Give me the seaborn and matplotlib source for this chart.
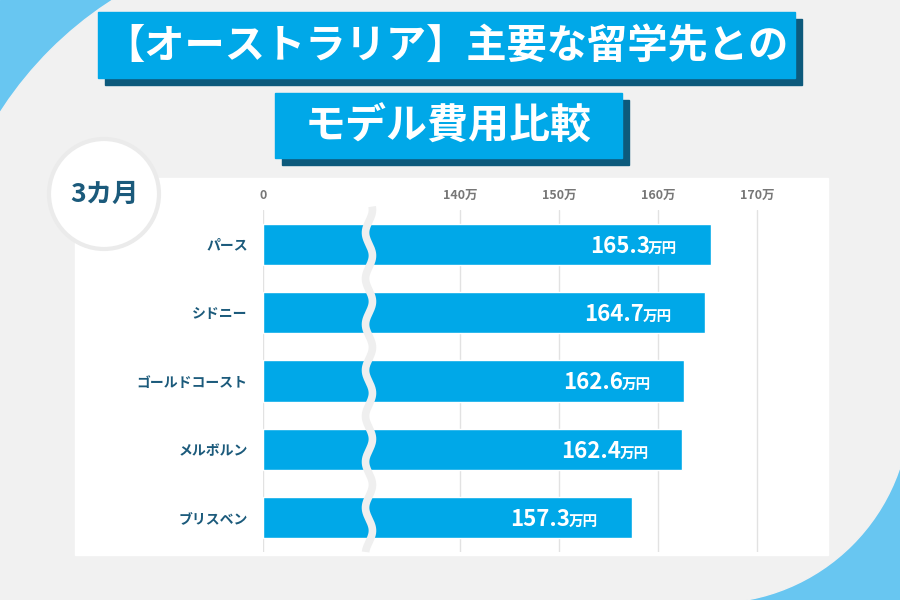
import numpy as np
import pandas as pd
import matplotlib.pyplot as plt
import seaborn as sns
from matplotlib.patches import Rectangle, Circle

# data (3カ月, 万円)
cities = ['パース', 'シドニー', 'ゴールドコースト', 'メルボルン', 'ブリスベン']
costs = [165.3, 164.7, 162.6, 162.4, 157.3]
tick_values = [0, 140, 150, 160, 170]
tick_labels = ['0', '140万', '150万', '160万', '170万']

title_1 = '【オーストラリア】主要な留学先との'
title_2 = 'モデル費用比較'
period = '3カ月'

BLUE = '#00a8e8'
SHADOW = '#0d5a7c'
NAVY = '#1b5a7b'
BG = '#f1f1f1'
CORNER = '#68c6f1'

# broken axis: everything past the break is shifted left by this amount
SHIFT = 120.1
BREAK_AT = 10.7


def squash(v):
    return v if v == 0 else v - SHIFT


sns.set_theme(style='white')
plt.rcParams['font.family'] = ['Noto Sans CJK JP', 'DejaVu Sans']

fig = plt.figure(figsize=(9, 6), dpi=100)
fig.patch.set_facecolor(BG)

# decoration layer in pixel coordinates (y down)
bg = fig.add_axes([0, 0, 1, 1])
bg.set_xlim(0, 900)
bg.set_ylim(600, 0)
bg.axis('off')
bg.set_facecolor(BG)

# light blue corners
bg.add_patch(Rectangle((0, 0), 140, 140, color=CORNER, zorder=0))
bg.add_patch(Circle((314, 314), 373, color=BG, zorder=0.5))
bg.add_patch(Rectangle((700, 460), 200, 140, color=CORNER, zorder=0))
bg.add_patch(Circle((712, 405), 198, color=BG, zorder=0.5))

# title boxes
for (x, y, w, h, txt, fs) in [(98, 12, 697, 66, title_1, 29), (275, 93, 347, 65, title_2, 29.5)]:
    bg.add_patch(Rectangle((x + 7, y + 7), w, h, color=SHADOW, zorder=1))
    bg.add_patch(Rectangle((x, y), w, h, color=BLUE, zorder=2))
    bg.text(x + w / 2, y + h / 2 + 1, txt, ha='center', va='center', color='white',
            fontsize=fs, fontweight='bold', zorder=3)

# white panel + period badge
bg.add_patch(Rectangle((75, 178), 753, 377, color='white', zorder=1))
bg.add_patch(Circle((104, 194), 55, facecolor='white', edgecolor='#ebebeb', lw=3, zorder=2))
bg.text(104, 194, period, ha='center', va='center', color=NAVY,
        fontsize=19, fontweight='bold', zorder=3)

# chart
df = pd.DataFrame({'city': cities, 'cost': costs})
df['pos'] = df['cost'].apply(squash)

ax = fig.add_axes([263 / 900, (600 - 552) / 600, 527 / 900, 342 / 600])
ax.set_facecolor('none')
sns.barplot(data=df, x='pos', y='city', color=BLUE, saturation=1, width=0.6, ax=ax, zorder=2)

ax.set_xlim(0, 53.2)
ax.set_ylim(4.5, -0.5)
ax.set_xticks([squash(t) for t in tick_values])
ax.set_xticklabels(tick_labels, fontweight='bold')
ax.set_yticks(range(len(cities)))
ax.set_yticklabels(cities, fontweight='bold')
ax.xaxis.tick_top()
ax.tick_params(axis='x', length=0, pad=6, labelsize=9, labelcolor='#777777')
ax.tick_params(axis='y', length=0, pad=11, labelsize=10, labelcolor=NAVY)
ax.set_xlabel('')
ax.set_ylabel('')
ax.grid(axis='x', color='#e2e2e2', lw=1)
ax.grid(axis='y', visible=False)
ax.set_axisbelow(True)
for s in ax.spines.values():
    s.set_visible(False)

# wavy break mark
ys = np.linspace(-0.55, 4.5, 400)
xs = BREAK_AT + 0.35 * np.sin(2 * np.pi * ys / 0.67)
ax.plot(xs, ys, color='#efefef', lw=5.5, solid_capstyle='butt', clip_on=False, zorder=3)

# value labels
for i, row in df.iterrows():
    ax.annotate('万円', xy=(row['pos'], i), xytext=(-24, -6), textcoords='offset points',
                ha='right', va='baseline', color='white', fontsize=10.5, fontweight='bold', zorder=4)
    ax.annotate(f"{row['cost']:.1f}", xy=(row['pos'], i), xytext=(-44, -6), textcoords='offset points',
                ha='right', va='baseline', color='white', fontsize=16, fontweight='bold', zorder=4)

fig.savefig('out.png', dpi=100, facecolor=BG)
